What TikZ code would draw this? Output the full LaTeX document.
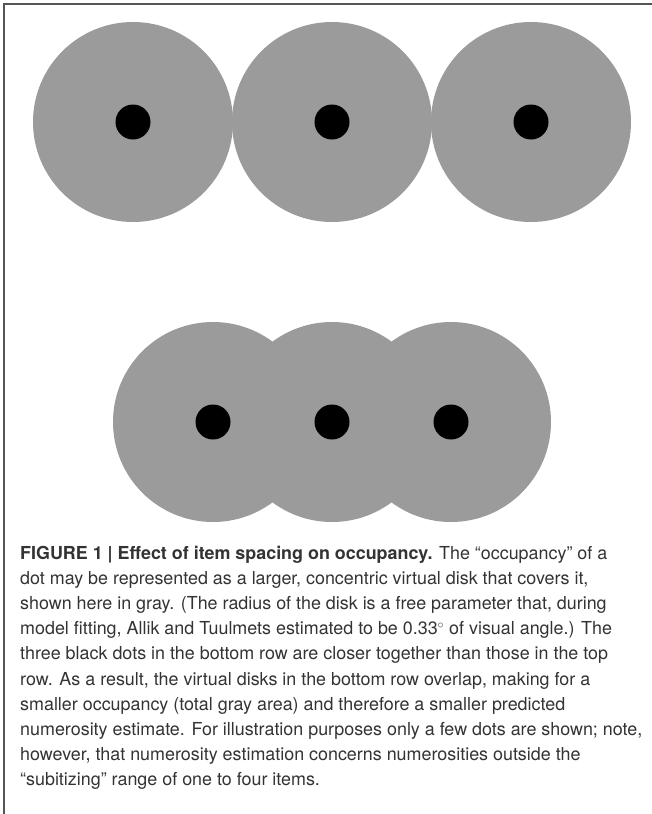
\documentclass[tikz,border=0pt]{standalone}
\usepackage{fontspec}
\setmainfont{TeX Gyre Heros}
\usepackage{xcolor}
\definecolor{ink}{HTML}{333333}
\definecolor{diskgrey}{HTML}{9B9B9B}
\definecolor{framegrey}{HTML}{555555}

\begin{document}
\begin{tikzpicture}[x=1pt, y=-1pt,
  disk/.style={circle, fill=diskgrey, minimum size=200pt, inner sep=0pt},
  dot/.style={circle, fill=black, minimum size=35pt, inner sep=0pt},
  caption/.style={anchor=north west, inner sep=0pt, align=left, text=ink,
                  font=\fontsize{17.9}{25.1}\selectfont}]
\useasboundingbox (0,0) rectangle (652,814);

% frame
\draw[framegrey, line width=1.2pt] (4,814) -- (4,4) -- (652,4);

% top row: disks just touching
\foreach \n/\x in {1/133, 2/332, 3/531}{
  \node[disk] (top\n) at (\x,122) {};
  \node[dot] (topdot\n) at (top\n) {};}

% bottom row: disks overlap
\foreach \n/\x in {1/213, 2/332, 3/451}{
  \node[disk] (bot\n) at (\x,422) {};}
\foreach \n in {1,2,3}{\node[dot] (botdot\n) at (bot\n) {};}

% caption
\node[caption] (cap) at (20,546) {%
  \textbf{FIGURE 1 | Effect of item spacing on occupancy.} The “occupancy” of a\\
  dot may be represented as a larger, concentric virtual disk that covers it,\\
  shown here in gray. (The radius of the disk is a free parameter that, during\\
  model fitting, Allik and Tuulmets estimated to be 0.33$^{\circ}$ of visual angle.) The\\
  three black dots in the bottom row are closer together than those in the top\\
  row. As a result, the virtual disks in the bottom row overlap, making for a\\
  smaller occupancy (total gray area) and therefore a smaller predicted\\
  numerosity estimate. For illustration purposes only a few dots are shown; note,\\
  however, that numerosity estimation concerns numerosities outside the\\
  “subitizing” range of one to four items.};

\end{tikzpicture}
\end{document}
